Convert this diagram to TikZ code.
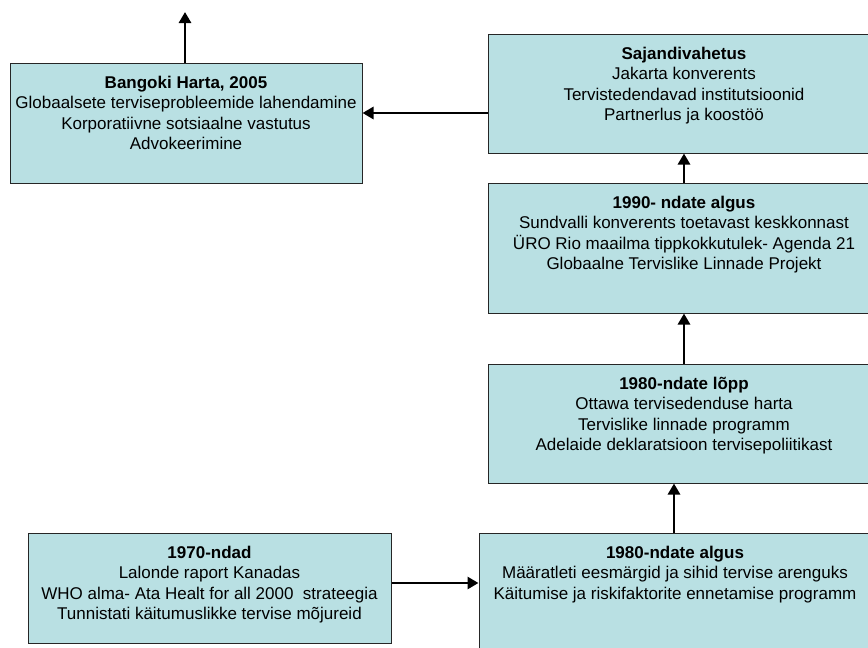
\documentclass[tikz,border=0pt]{standalone}
\usepackage{fontspec}
\setmainfont{Liberation Sans}
\usetikzlibrary{arrows.meta}
\definecolor{erafill}{RGB}{185,224,227}
\tikzset{
  era/.style={rectangle, draw=black!85, line width=1pt, fill=erafill, inner sep=0pt},
  eratext/.style={anchor=north, align=center, inner sep=0pt, yshift=-13pt,
    font=\fontsize{17}{20.6}\selectfont},
  arr/.style={line width=2.8pt, -{Triangle[length=11pt,width=12pt]}}
}
\begin{document}
\begin{tikzpicture}[x=1pt, y=-1pt]
\path[use as bounding box, clip] (0,0) rectangle (868,648);
\node[era, minimum width=352pt, minimum height=120pt] (bangkok) at (186,123){};
\node[eratext] (bangkoktxt) at (bangkok.north){\textbf{Bangoki Harta, 2005}\\Globaalsete terviseprobleemide lahendamine\\Korporatiivne sotsiaalne vastutus\\Advokeerimine};
\node[era, minimum width=392pt, minimum height=119pt] (sajand) at (684,93.5){};
\node[eratext] (sajandtxt) at (sajand.north){\textbf{Sajandivahetus}\\Jakarta konverents\\Tervistedendavad institutsioonid\\Partnerlus ja koostöö};
\node[era, minimum width=392pt, minimum height=130pt] (y1990) at (684,248){};
\node[eratext] (y1990txt) at (y1990.north){\textbf{1990- ndate algus}\\Sundvalli konverents toetavast keskkonnast\\ÜRO Rio maailma tippkokkutulek- Agenda 21\\Globaalne Tervislike Linnade Projekt};
\node[era, minimum width=392pt, minimum height=119pt] (lopp) at (684,423.5){};
\node[eratext] (lopptxt) at (lopp.north){\textbf{1980-ndate lõpp}\\Ottawa tervisedenduse harta\\Tervislike linnade programm\\Adelaide deklaratsioon tervisepoliitikast};
\node[era, minimum width=392pt, minimum height=132pt] (algus) at (675,599){};
\node[eratext] (algustxt) at (algus.north){\textbf{1980-ndate algus}\\Määratleti eesmärgid ja sihid tervise arenguks\\Käitumise ja riskifaktorite ennetamise programm};
\node[era, minimum width=363pt, minimum height=110pt] (y1970) at (209.5,588){};
\node[eratext] (y1970txt) at (y1970.north){\textbf{1970-ndad}\\Lalonde raport Kanadas\\WHO alma- Ata Healt for all 2000~ strateegia\\Tunnistati käitumuslikke tervise mõjureid};
\coordinate (future) at (185,12);
\coordinate (row1) at (425,113);
\coordinate (row2) at (435,583);
\draw[arr] (bangkok.north -| future) -- (future);
\draw[arr] (sajand.west |- row1) -- (bangkok.east |- row1);
\draw[arr] (y1990.north) -- (sajand.south);
\draw[arr] (lopp.north) -- (y1990.south);
\draw[arr] ([xshift=-1pt]algus.north) -- ([xshift=-1pt]algus.north |- lopp.south);
\draw[arr] (y1970.east |- row2) -- (algus.west |- row2);
\end{tikzpicture}
\end{document}
